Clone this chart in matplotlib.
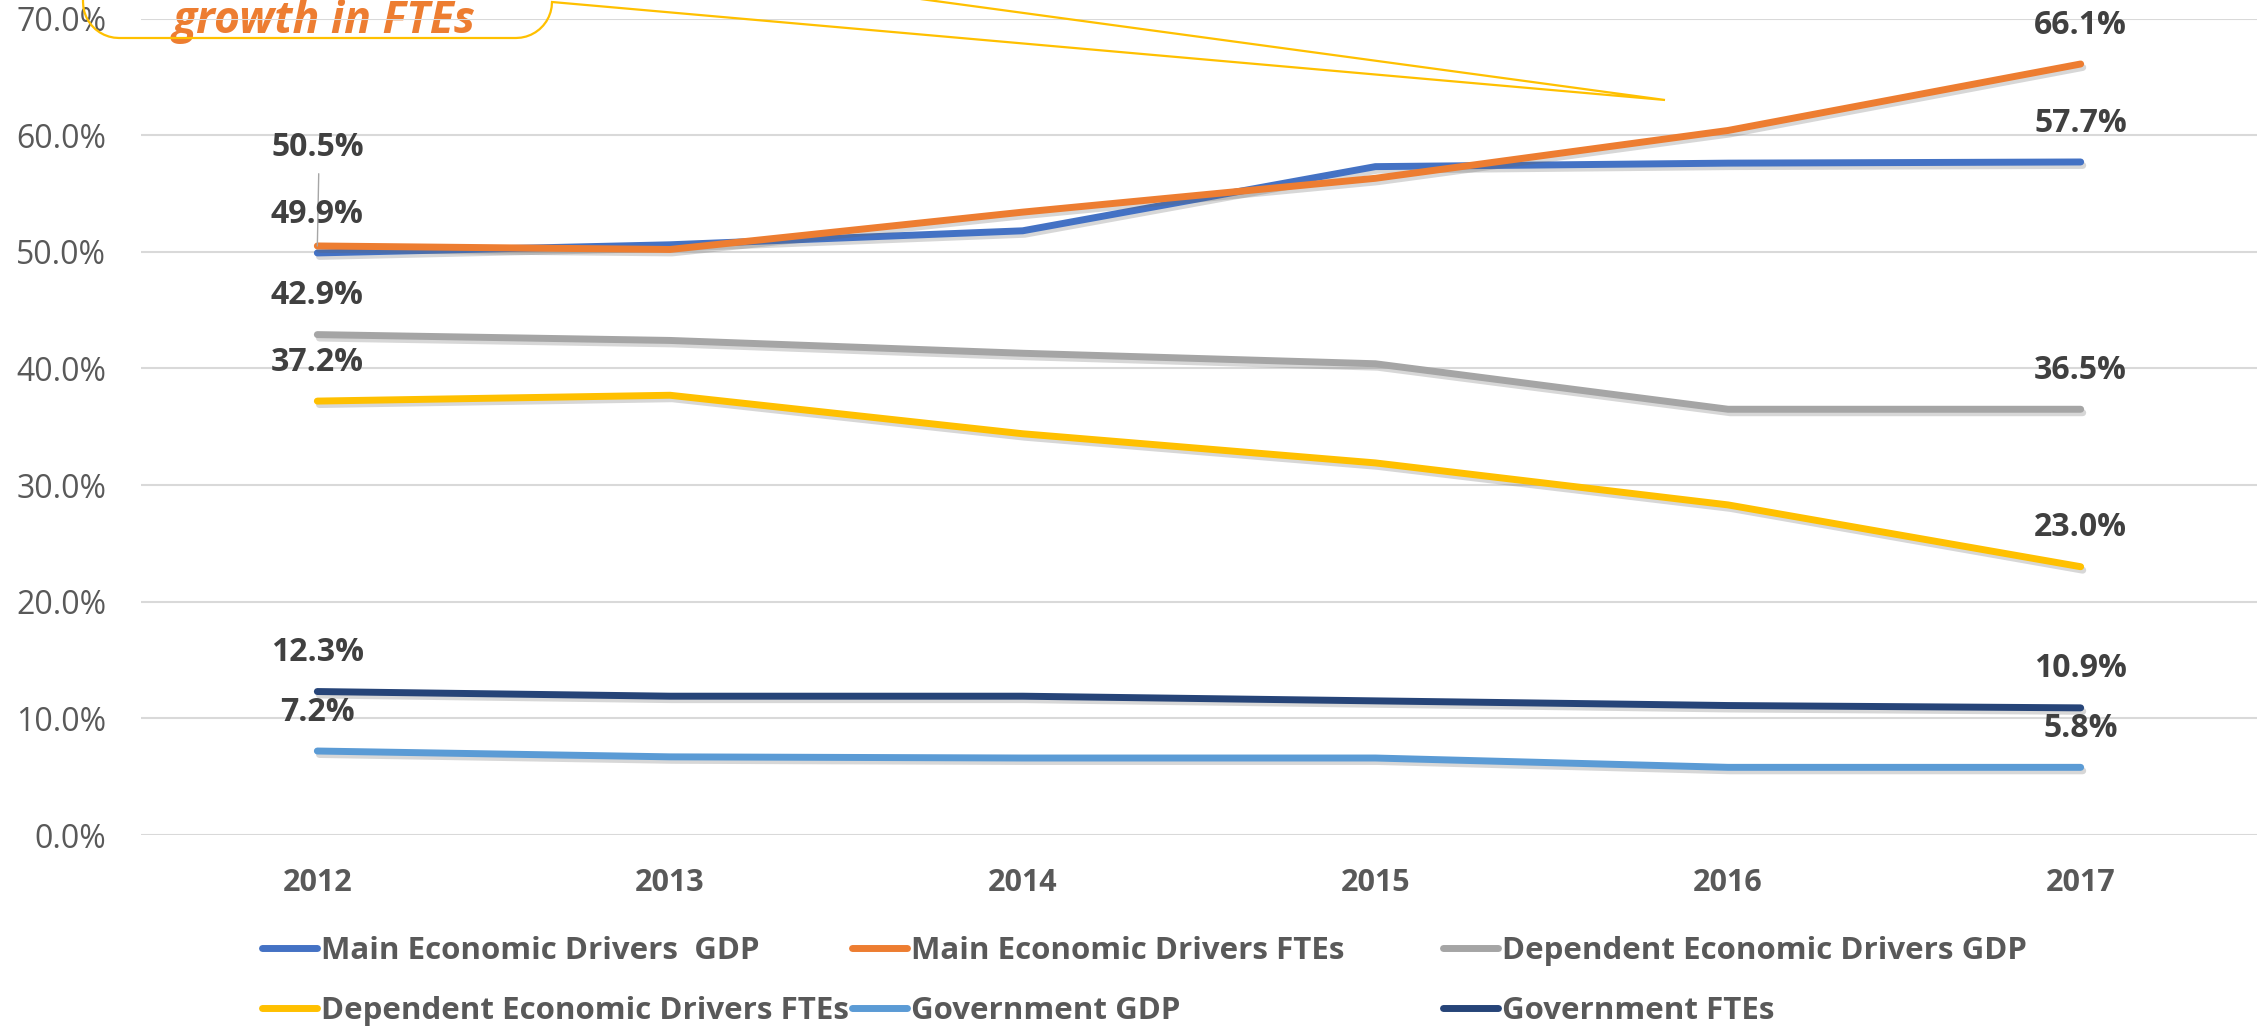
import matplotlib
matplotlib.use("Agg")
import matplotlib.pyplot as plt
import matplotlib.patheffects as pe
from matplotlib.path import Path
from matplotlib.patches import PathPatch
from matplotlib.ticker import FuncFormatter
import numpy as np

years = ["2012", "2013", "2014", "2015", "2016", "2017"]
main_gdp = [49.9, 50.6, 51.8, 57.3, 57.6, 57.7]
main_fte = [50.5, 50.2, 53.4, 56.3, 60.4, 66.1]
dep_gdp = [42.9, 42.4, 41.3, 40.4, 36.5, 36.5]
dep_fte = [37.2, 37.7, 34.4, 31.9, 28.3, 23.0]
gov_gdp = [7.2, 6.7, 6.6, 6.6, 5.8, 5.8]
gov_fte = [12.3, 11.9, 11.9, 11.5, 11.1, 10.9]

series_names = ["Main Economic Drivers  GDP", "Main Economic Drivers FTEs",
                "Dependent Economic Drivers GDP", "Dependent Economic Drivers FTEs",
                "Government GDP", "Government FTEs"]
series_vals = [main_gdp, main_fte, dep_gdp, dep_fte, gov_gdp, gov_fte]
colors = ["#4472C4", "#ED7D31", "#A5A5A5", "#FFC000", "#5B9BD5", "#264478"]
callout_text = "growth in FTEs"

FONT = ["Open Sans", "DejaVu Sans"]
plt.rcParams['font.family'] = FONT

W, H = 2262, 1032
fig = plt.figure(figsize=(W / 100, H / 100), dpi=100)
ax = fig.add_axes([141 / W, 1 - 835 / H, (2257 - 141) / W, (835 - 18.5) / H])
ax.set_facecolor('none')

x = np.arange(len(years))
handles = []
for name, vals, c in zip(series_names, series_vals, colors):
    ln, = ax.plot(x, vals, color=c, lw=5, solid_capstyle='round', solid_joinstyle='round',
                  label=name, zorder=3,
                  path_effects=[pe.SimpleLineShadow(offset=(1.5, -2.5), shadow_color='#606060', alpha=0.25),
                                pe.Normal()])
    handles.append(ln)

ax.set_xlim(-0.5, len(years) - 0.5)
ax.set_ylim(0, 70)
ax.set_yticks(np.arange(0, 71, 10))
ax.yaxis.set_major_formatter(FuncFormatter(lambda v, p: f"{v:.1f}%"))
ax.set_xticks(x)
ax.set_xticklabels(years)
ax.grid(axis='y', color='#D9D9D9', lw=1.5, zorder=0)
ax.set_axisbelow(True)
for s in ax.spines.values():
    s.set_visible(False)
ax.tick_params(axis='both', length=0)
ax.tick_params(axis='y', labelsize=23, labelcolor='#595959', pad=25)
ax.tick_params(axis='x', labelsize=22, labelcolor='#595959', pad=24)
for t in ax.get_xticklabels():
    t.set_fontweight('bold')

# data labels at first and last points
lab_kw = dict(ha='center', va='center', fontsize=23, fontweight='bold', color='#404040',
              textcoords='offset points', zorder=5)
for i, vals in enumerate(series_vals):
    for j in (0, len(years) - 1):
        off = 28
        if i == 1 and j == 0:
            off = 71
            ax.annotate("", xy=(x[j], vals[j]), xytext=(1, 52), textcoords='offset points',
                        arrowprops=dict(arrowstyle='-', color='#A6A6A6', lw=1.0,
                                        shrinkA=0, shrinkB=0))
        ax.annotate(f"{vals[j]:.1f}%", xy=(x[j], vals[j]), xytext=(0, off), **lab_kw)

# legend: three fixed-width columns, two rows (row-major order)
col_x = [262, 852, 1443]
for ci in range(3):
    idx = [ci, ci + 3]
    leg = fig.legend([handles[k] for k in idx], [series_names[k] for k in idx],
                     ncol=1, loc='upper left', bbox_to_anchor=(col_x[ci] / W, 1 - 936 / H),
                     frameon=False, borderpad=0, borderaxespad=0,
                     handlelength=1.75, handletextpad=0.15,
                     labelspacing=0.95, prop={'family': FONT, 'weight': 'bold', 'size': 22.5})
    for t in leg.get_texts():
        t.set_color('#595959')
    for h in leg.legend_handles:
        h.set_linewidth(5)
        h.set_solid_capstyle('round')
        h.set_path_effects([])

# callout shape (pixel coords from top-left)
def fp(px, py):
    return (px / W, 1 - py / H)

r = 36
verts = [fp(552, -51), fp(1665, 100), fp(552, 2)]
codes = [Path.MOVETO, Path.LINETO, Path.LINETO]
for a in np.linspace(0, np.pi / 2, 12)[1:]:
    verts.append(fp(552 - r + r * np.cos(a), 38 - r + r * np.sin(a)))
    codes.append(Path.LINETO)
verts.append(fp(83 + r, 38)); codes.append(Path.LINETO)
for a in np.linspace(np.pi / 2, np.pi, 12)[1:]:
    verts.append(fp(83 + r + r * np.cos(a), 38 - r + r * np.sin(a)))
    codes.append(Path.LINETO)
verts.append(fp(83, -200)); codes.append(Path.LINETO)
fig.patches.append(PathPatch(Path(verts, codes), transform=fig.transFigure, fill=False,
                             edgecolor='#FFC000', lw=1.6, zorder=6))
fig.text(172 / W, 1 - 33 / H, callout_text, ha='left', va='baseline', fontsize=32,
         fontweight='bold', fontstyle='italic', color='#ED7D31', zorder=-1)

fig.savefig("out.png", dpi=100)
